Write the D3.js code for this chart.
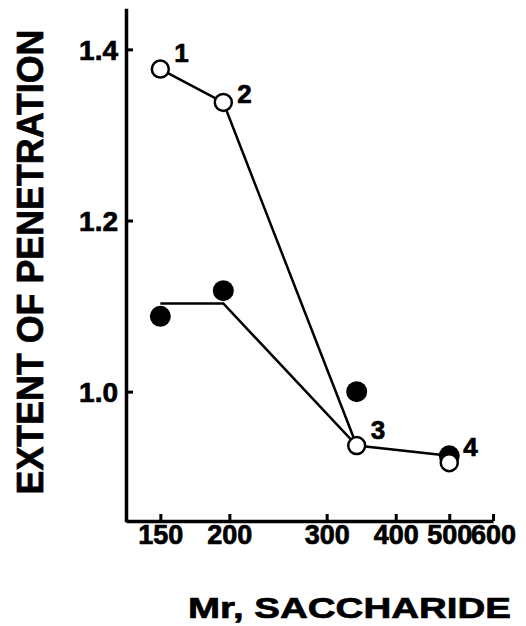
<!DOCTYPE html>
<html>
<head>
<meta charset="utf-8">
<script src="https://cdn.jsdelivr.net/npm/d3@7"></script>
<style>
  body { margin: 0; background: #fff; }
  svg { display: block; font-family: "Liberation Sans", Arial, sans-serif; font-weight: bold; }
  svg text { stroke: #000; stroke-width: 0.7px; }
</style>
</head>
<body>
<svg width="526" height="626"></svg>
<script>
// saccharide Mr, one per numbered point
var sizes = [150, 195, 340, 500];
var pointLabels = ["1", "2", "3", "4"];
// open circles
var openValues = [1.377, 1.338, 0.937, 0.917];
// filled circles
var filledValues = [1.088, 1.118, 1.0, 0.925];
// line drawn through the filled points
var filledLine = [1.103, 1.103, 0.937, 0.925];
var xTicks = [150, 200, 300, 400, 500, 600];
var yTicks = [1.0, 1.2, 1.4];

var svg = d3.select("svg");

var x = d3.scaleLog().domain([130, 600]).range([126, 493]),
    y = d3.scaleLinear().domain([0.85, 1.446]).range([520, 10]);

// y axis, ticks pointing inward
var gy = svg.append("g")
    .attr("transform", "translate(126,0)")
    .call(d3.axisLeft(y).tickValues(yTicks).tickFormat(d3.format(".1f"))
      .tickSizeInner(-7).tickSizeOuter(0).tickPadding(8));
gy.attr("font-family", null).attr("font-size", 28);
gy.select(".domain").attr("stroke-width", 3.5).attr("stroke-linecap", "square");
gy.selectAll(".tick line").attr("stroke-width", 3);
gy.selectAll(".tick text").attr("dy", "0.36em");

// x axis
var gx = svg.append("g")
    .attr("transform", "translate(0,521)")
    .call(d3.axisBottom(x).tickValues(xTicks).tickFormat(d3.format("d"))
      .tickSizeInner(-7).tickSizeOuter(0).tickPadding(4));
gx.attr("font-family", null).attr("font-size", 27);
gx.select(".domain").attr("stroke-width", 3.5);
gx.selectAll(".tick line").attr("stroke-width", 3);

var line = d3.line();

// line through filled points
svg.append("path")
    .attr("d", line(sizes.map(function(d, i) { return [x(d), y(filledLine[i])]; })))
    .attr("fill", "none").attr("stroke", "#000").attr("stroke-width", 2.5);

// line through open points 1-3
svg.append("path")
    .attr("d", line(sizes.slice(0, 3).map(function(d, i) { return [x(d), y(openValues[i])]; })))
    .attr("fill", "none").attr("stroke", "#000").attr("stroke-width", 2.5);

svg.selectAll("circle.filled")
  .data(filledValues)
  .enter().append("circle")
    .attr("class", "filled")
    .attr("cx", function(d, i) { return x(sizes[i]); })
    .attr("cy", function(d) { return y(d); })
    .attr("r", 10.5)
    .attr("fill", "#000");

svg.selectAll("circle.open")
  .data(openValues)
  .enter().append("circle")
    .attr("class", "open")
    .attr("cx", function(d, i) { return x(sizes[i]); })
    .attr("cy", function(d) { return y(d); })
    .attr("r", 8.5)
    .attr("fill", "#fff")
    .attr("stroke", "#000")
    .attr("stroke-width", 2.5);

svg.selectAll("text.num")
  .data(openValues)
  .enter().append("text")
    .attr("class", "num")
    .attr("x", function(d, i) { return x(sizes[i]) + 14; })
    .attr("y", function(d, i) { return y(d) - (i == 1 ? -1 : 7); })
    .attr("font-size", 26)
    .text(function(d, i) { return pointLabels[i]; });

// axis titles
svg.append("text")
    .attr("transform", "translate(43,262) rotate(-90)")
    .attr("text-anchor", "middle")
    .attr("font-size", 37)
    .attr("textLength", 465)
    .attr("lengthAdjust", "spacingAndGlyphs")
    .text("EXTENT OF PENETRATION");

svg.append("text")
    .attr("x", 188)
    .attr("y", 618)
    .attr("font-size", 30)
    .attr("textLength", 323)
    .attr("lengthAdjust", "spacingAndGlyphs")
    .text("Mr, SACCHARIDE");
</script>
</body>
</html>
